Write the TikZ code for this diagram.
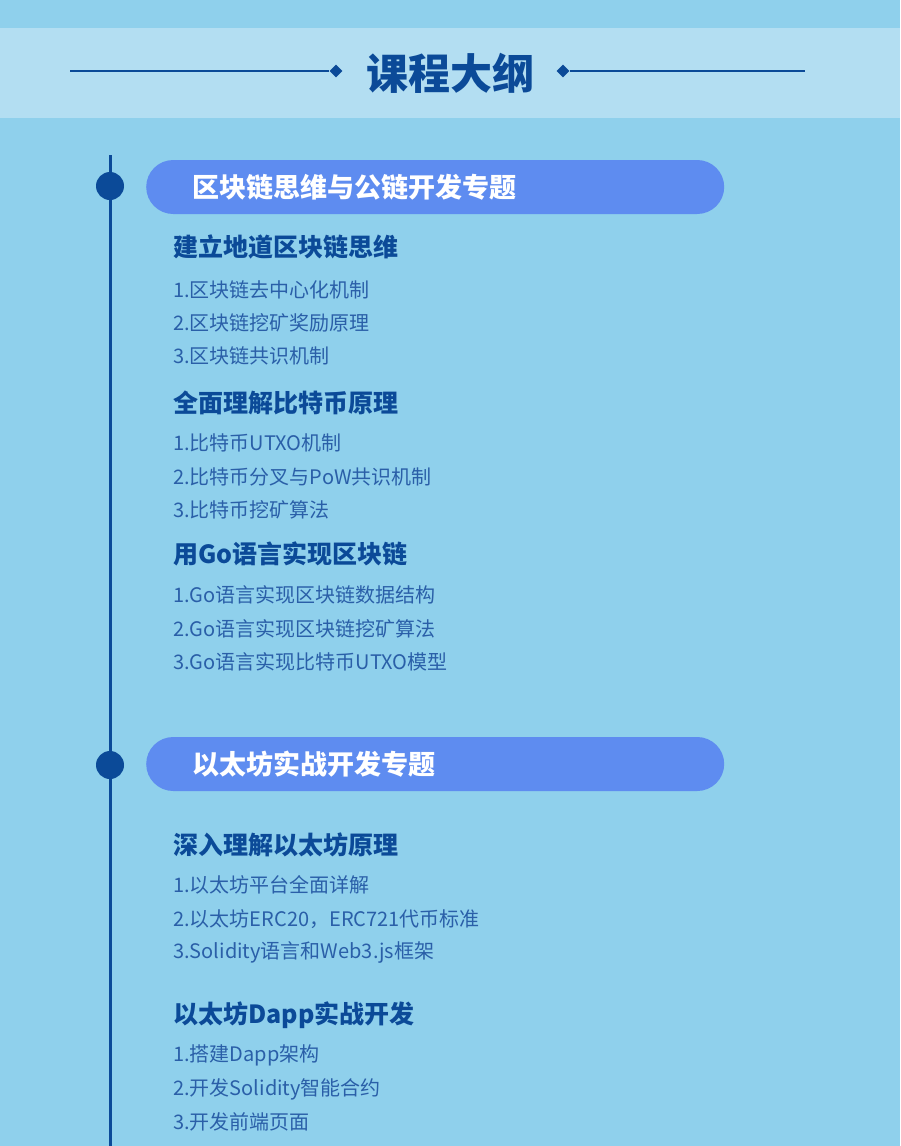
\documentclass[tikz,border=0pt]{standalone}
\usepackage{fontspec}
\setmainfont{Noto Sans CJK SC}
\usetikzlibrary{shapes.geometric}
\definecolor{bg}{HTML}{8FD0EC}
\definecolor{band}{HTML}{B3DEF2}
\definecolor{dark}{HTML}{0B4A98}
\definecolor{pill}{HTML}{5E8CF0}
\definecolor{item}{HTML}{2A5FA8}
\tikzset{
 pillbox/.style={fill=pill,rounded corners=27pt,minimum width=578pt,minimum height=54pt,anchor=west,inner sep=0},
 pilltext/.style={anchor=west,text=white,font=\fontsize{27}{30}\selectfont\bfseries,inner sep=0},
 sub/.style={anchor=west,text=dark,font=\fontsize{25}{28}\selectfont\bfseries,inner sep=0},
 itm/.style={anchor=west,text=item,font=\fontsize{20}{24}\selectfont,inner sep=0},
 dot/.style={circle,fill=dark,minimum size=28pt,inner sep=0},
 dia/.style={diamond,fill=dark,minimum size=13pt,inner sep=0}
}
\begin{document}
\begin{tikzpicture}[x=1pt,y=-1pt]
\fill[bg] (0,0) rectangle (900,1146);
\useasboundingbox (0,0) rectangle (900,1146);
\fill[band] (0,28) rectangle (900,118);
\node[text=dark,font=\fontsize{42}{46}\selectfont\bfseries,inner sep=0] (title) at (450,73) {课程大纲};
\node[dia] (dl) at (336,71) {};
\node[dia] (dr) at (563,71) {};
\coordinate (ll) at (70,71);
\coordinate (rr) at (805,71);
\draw[dark,line width=2.5pt] (ll) -- (dl);
\draw[dark,line width=2.5pt] (dr) -- (rr);
\coordinate (t0) at (110,155);
\coordinate (t1) at (110,1146);
\draw[dark,line width=3pt] (t0) -- (t1);
\node[dot] (d1) at (110,186) {};
\node[dot] (d2) at (110,765) {};
\node[pillbox] (p1) at (146,187) {};
\node[pilltext] at (192,187) {区块链思维与公链开发专题};
\node[pillbox] (p2) at (146,764) {};
\node[pilltext] at (192,764) {以太坊实战开发专题};
\node[sub] at (173,247) {建立地道区块链思维};
\node[itm] at (173,290) {1.区块链去中心化机制};
\node[itm] at (173,323) {2.区块链挖矿奖励原理};
\node[itm] at (173,356) {3.区块链共识机制};
\node[sub] at (173,403) {全面理解比特币原理};
\node[itm] at (173,443) {1.比特币UTXO机制};
\node[itm] at (173,477) {2.比特币分叉与PoW共识机制};
\node[itm] at (173,510) {3.比特币挖矿算法};
\node[sub] at (173,554) {用Go语言实现区块链};
\node[itm] at (173,595) {1.Go语言实现区块链数据结构};
\node[itm] at (173,629) {2.Go语言实现区块链挖矿算法};
\node[itm] at (173,662) {3.Go语言实现比特币UTXO模型};
\node[sub] at (173,845) {深入理解以太坊原理};
\node[itm] at (173,885) {1.以太坊平台全面详解};
\node[itm] at (173,919) {2.以太坊ERC20，ERC721代币标准};
\node[itm] at (173,952) {3.Solidity语言和Web3.js框架};
\node[sub] at (173,1015) {以太坊Dapp实战开发};
\node[itm] at (173,1055) {1.搭建Dapp架构};
\node[itm] at (173,1089) {2.开发Solidity智能合约};
\node[itm] at (173,1122) {3.开发前端页面};
\end{tikzpicture}
\end{document}
